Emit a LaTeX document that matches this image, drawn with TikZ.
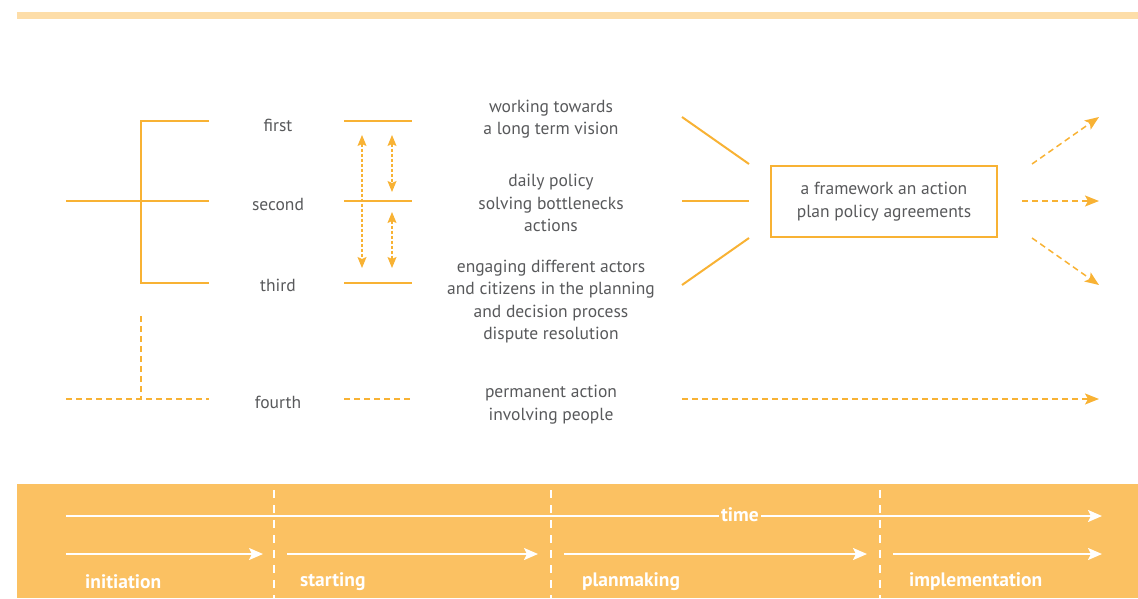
\documentclass[tikz,border=0pt]{standalone}
\usepackage{fontspec}
\setmainfont{PT Sans}
\usetikzlibrary{arrows.meta}
\definecolor{lineColor}{RGB}{248,178,52}
\definecolor{bannerColor}{RGB}{251,193,98}
\definecolor{barColor}{RGB}{253,221,168}
\definecolor{textColor}{RGB}{88,89,91}
\tikzstyle{canvas} = [x=1pt, y=-1pt]
\tikzstyle{levelLine} = [color=lineColor, line width=2pt]
\tikzstyle{levelDash} = [color=lineColor, line width=1.5pt, dash pattern=on 6pt off 4pt]
\tikzstyle{swapArrow} = [color=lineColor, line width=1.2pt, dash pattern=on 3pt off 2pt, {Stealth[length=11pt, width=9pt, inset=2pt]}-{Stealth[length=11pt, width=9pt, inset=2pt]}]
\tikzstyle{outArrow} = [levelDash, -{Stealth[length=14pt, width=11pt, inset=3pt]}]
\tikzstyle{levelText} = [text=textColor, font=\fontsize{17.5}{22.5}\selectfont, align=center, inner sep=0pt]
\tikzstyle{frameBox} = [levelText, draw=lineColor, line width=2.5pt, minimum width=226pt, minimum height=71pt]
\tikzstyle{timeArrow} = [color=white, line width=2pt, -{Stealth[length=14pt, width=12pt, inset=3pt]}]
\tikzstyle{phaseLine} = [color=white, line width=1.5pt, dash pattern=on 8pt off 7pt]
\tikzstyle{phaseFont} = [text=white, font=\fontsize{19.5}{21}\selectfont\bfseries, inner sep=0pt]
\tikzstyle{phaseText} = [phaseFont, anchor=west]
\newcommand{\levelLabel}[3]{\node [levelText] (#1) at (278,#2) {#3};}
\newcommand{\rungLine}[1]{\draw [levelLine] (344,#1) -- (412,#1);}
\newcommand{\phase}[4]{
  \draw [timeArrow] (#1,554) -- (#2,554);
  \node [phaseText] (#4) at (#3,582) {#4};
}

\begin{document}
\begin{tikzpicture}[canvas]
  \useasboundingbox (0,0) rectangle (1138,598);
  \fill [barColor] (17,12) rectangle (1138,19);

  % levels
  \draw [levelLine] (209,121) -| (141,283) -- (209,283);
  \draw [levelLine] (66,201) -- (209,201);
  \draw [levelDash] (141,316) -- (141,399);
  \draw [levelDash] (66,399) -- (209,399);
  \levelLabel{first}{125}{first}
  \levelLabel{second}{204}{second}
  \levelLabel{third}{285}{third}
  \levelLabel{fourth}{402}{fourth}

  \rungLine{121}
  \rungLine{201}
  \rungLine{283}
  \draw [levelDash] (344,399) -- (412,399);
  \draw [swapArrow] (362,135) -- (362,268);
  \draw [swapArrow] (392,135) -- (392,192);
  \draw [swapArrow] (392,212) -- (392,268);

  % descriptions
  \node [levelText] (vision) at (551,119) {working towards\\a long term vision};
  \node [levelText] (policy) at (551,203) {daily policy\\solving bottlenecks\\actions};
  \node [levelText] (actors) at (551,301.5) {engaging different actors\\and citizens in the planning\\and decision process\\dispute resolution};
  \node [levelText] (people) at (551,404.5) {permanent action\\involving people};

  % result
  \node [frameBox] (plan) at (884,201.5) {a framework an action\\plan policy agreements};
  \draw [levelLine] (682,117) -- (749,164);
  \draw [levelLine] (682,201) -- (749,201);
  \draw [levelLine] (682,285) -- (749,238);
  \draw [outArrow] (1032,164) -- (1099,117);
  \draw [outArrow] (1022,201) -- (1099,201);
  \draw [outArrow] (1032,238) -- (1099,285);
  \draw [outArrow] (682,399) -- (1099,399);

  % time banner
  \fill [bannerColor] (17,484) rectangle (1138,598);
  \foreach \x in {274,551,880} {
    \draw [phaseLine] (\x,490) -- (\x,598);
  }
  \draw [timeArrow] (66,516) -- (1102,516);
  \node [phaseFont, fill=bannerColor, inner xsep=2pt, inner ysep=1pt] (time) at (740,515) {time};
  \phase{66}{263}{85}{initiation}
  \phase{287}{538}{300}{starting}
  \phase{564}{867}{582}{planmaking}
  \phase{893}{1102}{909}{implementation}
\end{tikzpicture}
\end{document}
